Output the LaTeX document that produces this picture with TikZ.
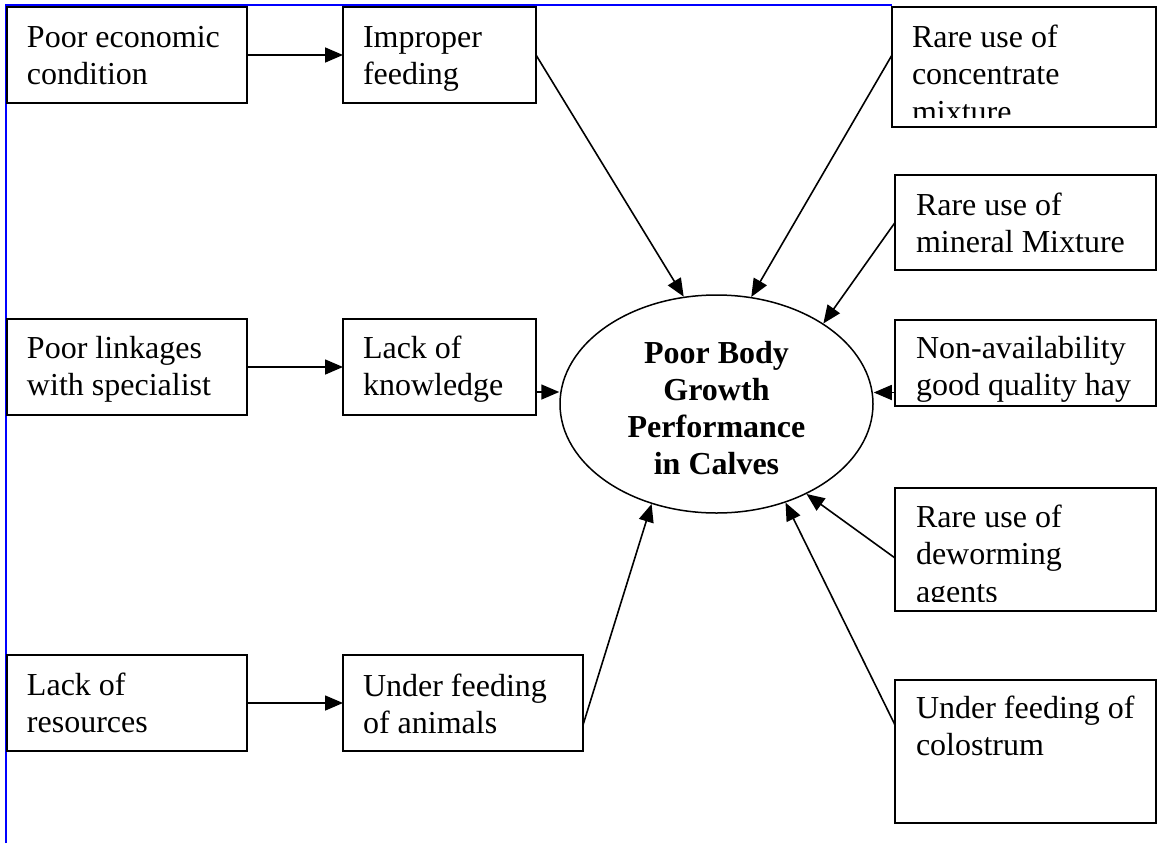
\documentclass[tikz,border=0pt]{standalone}
\usepackage{fontspec}
\setmainfont{Liberation Serif}
\usetikzlibrary{arrows.meta,shapes.geometric}
\definecolor{framblue}{RGB}{0,0,255}
\begin{document}
\begin{tikzpicture}[x=1pt,y=-1pt,
  box/.style={draw,line width=1.5pt,rectangle,inner sep=0pt,outer sep=0pt,anchor=north west},
  txt/.style={inner sep=0pt,outer sep=0pt,anchor=north west,align=left,font=\fontsize{32}{37.5}\selectfont},
  arr/.style={line width=1.6pt,-{Triangle[length=18pt,width=15pt]}},
  blueline/.style={draw=framblue,line width=2pt}
]
\useasboundingbox (0,0) rectangle (1158,843);
% blue frame
\draw[blueline] (5.5,843) -- (5.5,5.5) -- (892,5.5);

% boxes
\node[box,minimum width=240pt,minimum height=96pt] (econ) at (7,7) {};
\node[box,minimum width=193pt,minimum height=96pt] (impr) at (343,7) {};
\node[box,minimum width=264pt,minimum height=120pt] (conc) at (892,7) {};
\node[box,minimum width=261pt,minimum height=95pt] (mine) at (895,175) {};
\node[box,minimum width=261pt,minimum height=86pt] (nonav) at (895,320) {};
\node[box,minimum width=240pt,minimum height=96pt] (link) at (7,319) {};
\node[box,minimum width=193pt,minimum height=96pt] (know) at (343,319) {};
\node[box,minimum width=261pt,minimum height=123pt] (worm) at (895,488) {};
\node[box,minimum width=261pt,minimum height=143pt] (colo) at (895,680) {};
\node[box,minimum width=240pt,minimum height=96pt] (res) at (7,655) {};
\node[box,minimum width=240pt,minimum height=96pt] (anim) at (343,655) {};

% texts (north = first baseline - 25.9)
\node[txt] (econT) at (27,21.1) {\strut Poor economic\\condition};
\node[txt] (imprT) at (363,21.1) {\strut Improper\\feeding};
\begin{scope}
  \clip (conc.north west) rectangle ([yshift=9.5pt]conc.south east);
  \node[txt] (concT) at (912,21.1) {\strut Rare use of\\concentrate\\mixture};
\end{scope}
\node[txt] (mineT) at (916,189.1) {\strut Rare use of\\mineral Mixture};
\node[txt] (nonavT) at (916,332.1) {\strut Non-availability\\good quality hay};
\node[txt] (linkT) at (27,332.1) {\strut Poor linkages\\with specialist};
\node[txt] (knowT) at (363,332.1) {\strut Lack of\\knowledge};
\begin{scope}
  \clip (worm.north west) rectangle ([yshift=9.5pt]worm.south east);
  \node[txt] (wormT) at (916,501.1) {\strut Rare use of\\deworming\\agents};
\end{scope}
\node[txt] (coloT) at (916,692.1) {\strut Under feeding of\\colostrum};
\node[txt] (resT) at (27,669.1) {\strut Lack of\\resources};
\node[txt] (animT) at (363,670.1) {\strut Under feeding\\of animals};

% central ellipse
\node[draw,ellipse,line width=1.5pt,minimum width=313pt,minimum height=218pt,inner sep=0pt] (ell) at (716.5,404) {};
\node[inner sep=0pt,anchor=north,align=center,font=\bfseries\fontsize{32}{37}\selectfont] (ellT) at (716.5,337.1)
  {\strut Poor Body\\Growth\\Performance\\in Calves};

% connectors
\coordinate (kh) at ([yshift=-25pt]know.east);
\coordinate (nh) at ([yshift=-29.5pt]nonav.west);
\coordinate (cs) at ([yshift=12pt]conc.west);
\coordinate (ws) at ([yshift=-8.5pt]worm.west);
\coordinate (cls) at ([yshift=26.5pt]colo.west);
\coordinate (as) at ([yshift=-22pt]anim.east);

\draw[arr] (econ.east) -- (impr.west);
\draw[arr] (link.east) -- (know.west);
\draw[arr] (res.east) -- (anim.west);
\draw[arr] (kh) -- (kh -| ell.west);
\draw[arr] (nh) -- (nh -| ell.east);
\draw[arr] (impr.east) -- (ell.107.7);
\draw[arr] (cs) -- (ell.72.6);
\draw[arr] (mine.west) -- (ell.37.8);
\draw[arr] (ws) -- (ell.-45);
\draw[arr] (cls) -- (ell.-55.2);
\draw[arr] (as) -- (ell.237.1);
\end{tikzpicture}
\end{document}
